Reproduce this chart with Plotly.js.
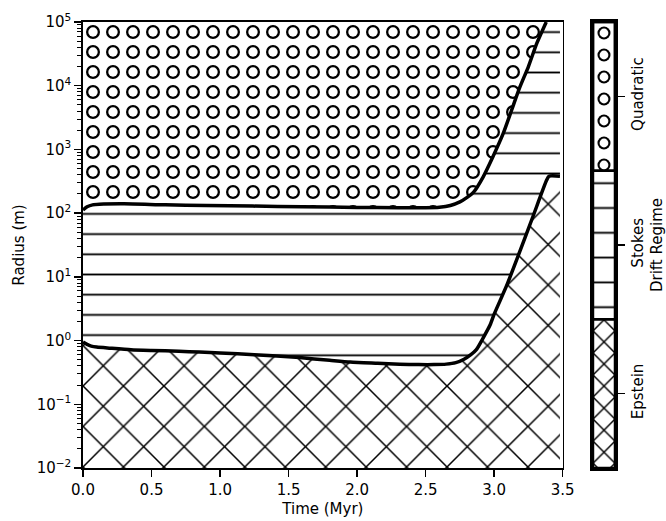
<!DOCTYPE html>
<html>
<head>
<meta charset="utf-8">
<script src="https://cdn.plot.ly/plotly-3.0.1.min.js"></script>
<style>
  html, body { margin: 0; padding: 0; background: #ffffff; }
  #chart { width: 666px; height: 521px; }
</style>
</head>
<body>
<div id="chart"></div>
<script>
// Boundary between the Epstein and Stokes drift regimes (time in Myr, radius in m)
const timeEpsteinStokes = [0, 0.03, 0.06, 0.1, 0.2, 0.35, 0.5, 0.7, 0.85, 1.0, 1.25, 1.58, 1.8, 1.95,
  2.15, 2.31, 2.45, 2.56, 2.65, 2.72, 2.78, 2.83, 2.87, 2.92, 2.97, 3.0, 3.09, 3.19, 3.285, 3.383, 3.40, 3.48];
const radiusEpsteinStokes = [0.95, 0.87, 0.82, 0.79, 0.76, 0.72, 0.70, 0.68, 0.66, 0.64, 0.60, 0.54, 0.49, 0.46,
  0.44, 0.425, 0.42, 0.42, 0.427, 0.45, 0.51, 0.60, 0.72, 1.1, 1.75, 2.6, 7.2, 26, 91, 330, 380, 380];

// Boundary between the Stokes and quadratic drift regimes
const timeStokesQuadratic = [0, 0.03, 0.07, 0.12, 0.3, 0.6, 0.9, 1.24, 1.6, 2.0, 2.3, 2.5, 2.6, 2.68,
  2.75, 2.8, 2.85, 2.92, 2.99, 3.066, 3.127, 3.188, 3.25, 3.31, 3.38];
const radiusStokesQuadratic = [112, 126, 135, 138, 140, 135, 132, 129, 126, 123, 122, 122, 124, 132,
  150, 175, 214, 372, 760, 1780, 4120, 9550, 20000, 45700, 100000];

// Drift regimes, bottom to top of the colour bar
const regimeNames = ['Epstein', 'Stokes', 'Quadratic'];

// Axis limits and ticks
const timeRange = [0, 3.5];
const radiusRange = [1e-2, 1e5];
const timeTicks = [0, 0.5, 1.0, 1.5, 2.0, 2.5, 3.0, 3.5];
const radiusTicks = [1e-2, 1e-1, 1e0, 1e1, 1e2, 1e3, 1e4, 1e5];
const radiusTickText = ['10<sup>−2</sup>', '10<sup>−1</sup>', '10<sup>0</sup>', '10<sup>1</sup>',
  '10<sup>2</sup>', '10<sup>3</sup>', '10<sup>4</sup>', '10<sup>5</sup>'];

// Minor ticks at 2..9 of every decade on the radius axis
const radiusMinor = [];
for (let e = -2; e < 5; e++) {
  for (let m = 2; m <= 9; m++) radiusMinor.push(m * Math.pow(10, e));
}

const rMin = radiusRange[0];
const rMax = radiusRange[1];
const tEnd = timeEpsteinStokes[timeEpsteinStokes.length - 1];

// Region polygons built from the two boundaries
const epsteinX = timeEpsteinStokes.concat([tEnd, 0]);
const epsteinY = radiusEpsteinStokes.concat([rMin, rMin]);

const stokesX = timeEpsteinStokes.concat([tEnd], timeStokesQuadratic.slice().reverse());
const stokesY = radiusEpsteinStokes.concat([rMax], radiusStokesQuadratic.slice().reverse());

const quadX = timeStokesQuadratic.concat([0]);
const quadY = radiusStokesQuadratic.concat([rMax]);

const INK = '#000000';
const CLEAR = 'rgba(0,0,0,0)';

function region(x, y, pattern) {
  return {
    type: 'scatter', x: x, y: y, mode: 'none', fill: 'toself',
    fillcolor: CLEAR, fillpattern: pattern,
    hoverinfo: 'skip', showlegend: false, xaxis: 'x', yaxis: 'y'
  };
}

function boundary(x, y) {
  return {
    type: 'scatter', x: x, y: y, mode: 'lines',
    line: { color: INK, width: 3.5, shape: 'spline', smoothing: 0.6 },
    hoverinfo: 'skip', showlegend: false, xaxis: 'x', yaxis: 'y'
  };
}

function cbBar(base, pattern) {
  return {
    type: 'bar', x: [0], y: [1], base: [base], width: [1],
    marker: { color: CLEAR, pattern: pattern, line: { color: INK, width: 2.5 } },
    hoverinfo: 'skip', showlegend: false, xaxis: 'x2', yaxis: 'y2'
  };
}

const traces = [
  // Epstein: cross hatch
  region(epsteinX, epsteinY, { shape: 'x', size: 28.6, solidity: 0.105, fgcolor: INK, bgcolor: '#ffffff', fillmode: 'replace' }),
  // Stokes: horizontal lines
  region(stokesX, stokesY, { shape: '-', size: 20.2, solidity: 0.09, fgcolor: INK, bgcolor: '#ffffff', fillmode: 'replace' }),
  // Quadratic: open rings (black disc with a white centre)
  region(quadX, quadY, { shape: '.', size: 20, solidity: 0.385, fgcolor: INK, bgcolor: '#ffffff', fillmode: 'replace' }),
  region(quadX, quadY, { shape: '.', size: 20, solidity: 0.1735, fgcolor: '#ffffff', bgcolor: CLEAR, fillmode: 'replace' }),
  boundary(timeEpsteinStokes, radiusEpsteinStokes),
  boundary(timeStokesQuadratic, radiusStokesQuadratic),
  // Colour bar with one hatched block per regime
  cbBar(0, { shape: 'x', size: 15.6, solidity: 0.18, fgcolor: INK, bgcolor: '#ffffff', fillmode: 'replace' }),
  cbBar(1, { shape: '-', size: 24.8, solidity: 0.075, fgcolor: INK, bgcolor: '#ffffff', fillmode: 'replace' }),
  cbBar(2, { shape: '.', size: 22, solidity: 0.275, fgcolor: INK, bgcolor: '#ffffff', fillmode: 'replace' }),
  cbBar(2, { shape: '.', size: 22, solidity: 0.126, fgcolor: '#ffffff', bgcolor: CLEAR, fillmode: 'replace' })
];

const font = { family: 'DejaVu Sans, sans-serif', size: 15, color: INK };

const layout = {
  width: 666, height: 521,
  margin: { l: 83, r: 51, t: 22, b: 53, pad: 0 },
  paper_bgcolor: '#ffffff', plot_bgcolor: '#ffffff',
  font: font,
  showlegend: false,
  barmode: 'overlay',
  xaxis: {
    domain: [0, 0.9017], anchor: 'y',
    range: timeRange, tickvals: timeTicks, tickformat: '.1f',
    ticks: 'outside', ticklen: 7, tickwidth: 1.5, tickcolor: INK,
    showline: true, mirror: true, linecolor: INK, linewidth: 1.7,
    showgrid: false, zeroline: false, automargin: false,
    title: { text: 'Time (Myr)', font: font, standoff: 6 }
  },
  yaxis: {
    anchor: 'x', type: 'log',
    range: [Math.log10(rMin), Math.log10(rMax)],
    tickvals: radiusTicks, ticktext: radiusTickText,
    ticks: 'outside', ticklen: 7, tickwidth: 1.5, tickcolor: INK,
    minor: { tickvals: radiusMinor, ticks: 'outside', ticklen: 4, tickwidth: 1, tickcolor: INK, showgrid: false },
    showline: true, mirror: true, linecolor: INK, linewidth: 1.7,
    showgrid: false, zeroline: false, automargin: false,
    title: { text: 'Radius (m)', font: font, standoff: 8 }
  },
  xaxis2: {
    domain: [0.9586, 1], anchor: 'y2',
    range: [-0.5, 0.5], showticklabels: false, ticks: '',
    showline: true, mirror: true, linecolor: INK, linewidth: 3,
    showgrid: false, zeroline: false, fixedrange: true
  },
  yaxis2: {
    domain: [0, 1], anchor: 'x2', side: 'right',
    range: [0, 3], tickvals: [0.5, 1.5, 2.5], ticktext: regimeNames, tickangle: -90,
    ticks: 'outside', ticklen: 7, tickwidth: 1.5, tickcolor: INK,
    showline: true, mirror: true, linecolor: INK, linewidth: 3,
    showgrid: false, zeroline: false, automargin: false, fixedrange: true,
    title: { text: 'Drift Regime', font: font, standoff: 6 }
  }
};

Plotly.newPlot('chart', traces, layout, { displayModeBar: false, staticPlot: true });
</script>
</body>
</html>
